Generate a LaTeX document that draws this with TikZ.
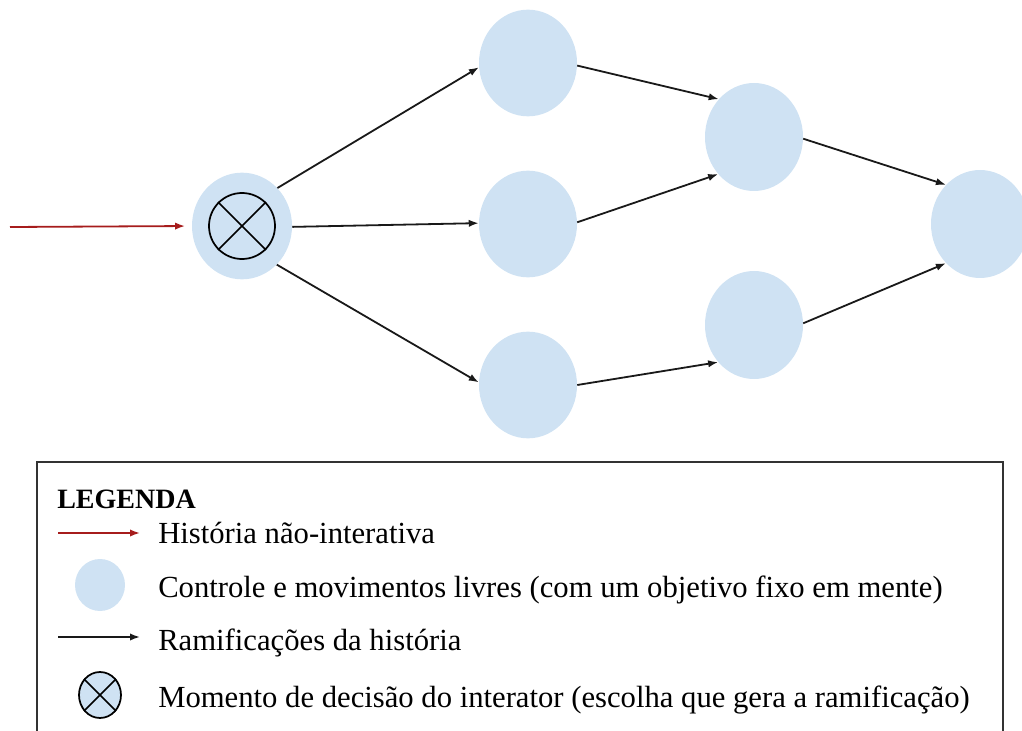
\documentclass[tikz,border=0pt]{standalone}
\usepackage{fontspec}
\setmainfont{Liberation Serif}
\usetikzlibrary{shapes.geometric,arrows.meta}
\definecolor{nodeblue}{HTML}{CFE2F3}
\definecolor{histred}{HTML}{A61C1C}
\begin{document}
\begin{tikzpicture}[x=0.75pt,y=-0.75pt,
 blob/.style={ellipse, fill=nodeblue, draw=none, minimum width=73.5pt, minimum height=80pt, inner sep=0pt},
 branch/.style={draw=black!90, line width=1.35pt, -{Latex[length=7.5pt,width=5.5pt]}},
 hist/.style={draw=histred, line width=1.35pt, -{Latex[length=7.5pt,width=5.5pt]}},
 xring/.style={ellipse, draw=black, line width=1.3pt, inner sep=0pt},
 xline/.style={line width=1.3pt},
 legtext/.style={anchor=base west, inner sep=0pt, font=\fontsize{23}{27}\selectfont},
 legbox/.style={draw=black!80, line width=1.3pt},
]
\useasboundingbox (0,0) rectangle (1022,731);
\clip (0,0) rectangle (1022,731);
% main diagram
\node[blob, minimum width=75pt, minimum height=80pt] (dec) at (242,226) {};
\node[xring, minimum width=49.5pt, minimum height=49.5pt] (decx) at (242,226) {};
\draw[xline] (decx.45) -- (decx.225) (decx.135) -- (decx.315);
\node[blob] (top) at (528,63) {};
\node[blob] (mid) at (528,224) {};
\node[blob] (bot) at (528,385) {};
\node[blob, minimum height=81pt] (rt) at (754,137) {};
\node[blob, minimum height=81pt] (rb) at (754,325) {};
\node[blob, minimum height=81pt] (fr) at (980,224) {};
\coordinate (histstart) at (10,227);
\draw[hist, shorten >=5pt] (histstart) -- (dec.west);
\draw[branch] (dec.47) -- (top.185);
\draw[branch] (dec.-1) -- (mid.179);
\draw[branch] (dec.312) -- (bot.177);
\draw[branch] (top.357) -- (rt.133);
\draw[branch] (mid.2) -- (rt.226);
\draw[branch] (bot.0) -- (rb.226);
\draw[branch] (rt.358) -- (fr.131);
\draw[branch] (rb.2) -- (fr.229);
% legend
\draw[legbox] (37,462) rectangle (1003,760);
\node[legtext, font=\fontsize{21}{25}\selectfont\bfseries] (legtitle) at (57,508) {LEGENDA};
\coordinate (la1) at (58,533);
\coordinate (lb1) at (140,533);
\draw[hist] (la1) -- (lb1);
\node[legtext] (t1) at (158,543) {História não-interativa};
\node[blob, minimum width=37.5pt, minimum height=39pt] (lblob) at (100,585) {};
\node[legtext] (t2) at (158,597) {Controle e movimentos livres (com um objetivo fixo em mente)};
\coordinate (la2) at (58,637);
\coordinate (lb2) at (140,637);
\draw[branch] (la2) -- (lb2);
\node[legtext] (t3) at (158,650) {Ramificações da história};
\node[xring, fill=nodeblue, minimum width=31.5pt, minimum height=34.5pt] (lx) at (100,695) {};
\draw[xline] (lx.45) -- (lx.225) (lx.135) -- (lx.315);
\node[legtext] (t4) at (158,707) {Momento de decisão do interator (escolha que gera a ramificação)};
\end{tikzpicture}
\end{document}
